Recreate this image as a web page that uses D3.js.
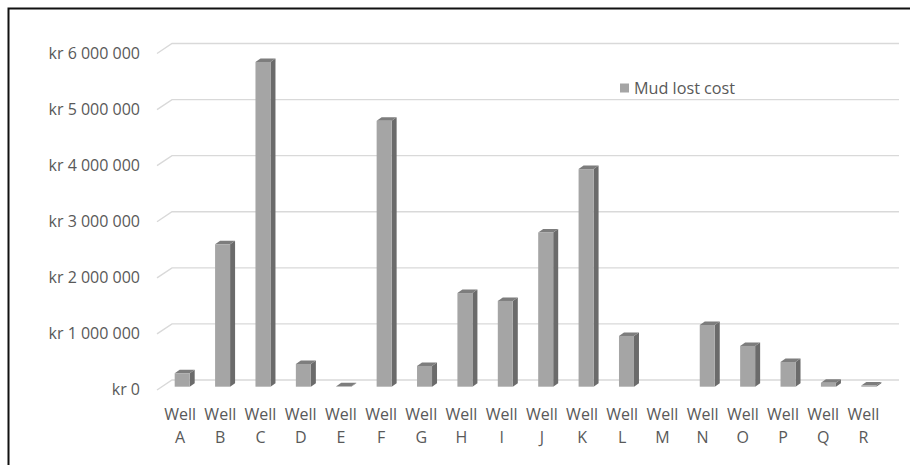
<!DOCTYPE html>
<html>
<head>
<meta charset="utf-8">
<script src="https://cdn.jsdelivr.net/npm/d3@7"></script>
<style>
  html, body { margin: 0; padding: 0; background: #fff; }
  svg { display: block; }
  text { font-family: "Open Sans", Lato, sans-serif; fill: #595959; }
</style>
</head>
<body>
<svg id="chart" width="910" height="465"></svg>
<script>
// Mud lost cost per well (NOK)
const wells = ["A","B","C","D","E","F","G","H","I","J","K","L","M","N","O","P","Q","R"];
const mudLostCost = [240000, 2540000, 5790000, 405000, 10000, 4740000, 370000, 1670000, 1530000,
                     2750000, 3880000, 905000, 0, 1100000, 727000, 440000, 70000, 20000];
const yTicks = [0, 1000000, 2000000, 3000000, 4000000, 5000000, 6000000];
const seriesName = "Mud lost cost";

const svg = d3.select("#chart");

// Depth offsets of the 3D box (back wall relative to front edge)
const wallDX = 15, wallDY = 10;
const barFrontOffset = 10, barFrontDrop = 6.7;   // bar front plane relative to back wall
const barDX = 5, barDY = 3.5;                    // bar depth

// Back-wall scales
const xBack = d3.scaleBand().domain(wells).range([172, 899]);
const y = d3.scaleLinear().domain([0, 6000000]).range([380, 43.5]);
// Front-edge scale for category labels
const xFront = d3.scaleBand().domain(wells).range([160, 883.5]);

const fmt = v => "kr " + d3.format(",")(v).replace(/,/g, " ");

// Outer frame
svg.append("rect")
  .attr("x", 8.5).attr("y", 8.5)
  .attr("width", 1000).attr("height", 1000)
  .attr("fill", "none").attr("stroke", "#111").attr("stroke-width", 2);

// Gridlines: side-wall diagonal + back-wall horizontal
const xL = xBack.range()[0], xR = xBack.range()[1];
svg.append("g").selectAll("path")
  .data(yTicks).join("path")
  .attr("d", t => `M${xL - wallDX},${y(t) + wallDY}L${xL},${y(t)}L${xR},${y(t)}`)
  .attr("fill", "none").attr("stroke", "#d9d9d9").attr("stroke-width", 1.4);

// Value axis labels
svg.append("g").selectAll("text")
  .data(yTicks).join("text")
  .attr("x", 140).attr("y", t => y(t) + wallDY - 1)
  .attr("text-anchor", "end").attr("dominant-baseline", "central")
  .style("font-size", "16px")
  .text(fmt);

// 3D columns
const bars = svg.append("g").selectAll("g")
  .data(wells.map((w, i) => ({ w, v: mudLostCost[i] })))
  .join("g");

const fw = 15;
const fx = d => xBack(d.w) + xBack.bandwidth() / 2 - barFrontOffset - fw / 2;
const baseY = y(0) + barFrontDrop;
const topY = d => y(d.v) + barFrontDrop;

bars.filter(d => d.v > 0).append("path")   // right side
  .attr("d", d => {
    const x1 = fx(d) + fw, t = topY(d);
    return `M${x1},${t}L${x1 + barDX},${t - barDY}L${x1 + barDX},${baseY - barDY}L${x1},${baseY}Z`;
  })
  .attr("fill", "#6b6b6b");

bars.filter(d => d.v > 0).append("path")   // top
  .attr("d", d => {
    const x0 = fx(d), t = topY(d);
    return `M${x0},${t}L${x0 + barDX},${t - barDY}L${x0 + fw + barDX},${t - barDY}L${x0 + fw},${t}Z`;
  })
  .attr("fill", "#7d7d7d");

bars.filter(d => d.v > 0).append("rect")   // front
  .attr("x", fx)
  .attr("y", topY)
  .attr("width", fw)
  .attr("height", d => baseY - topY(d))
  .attr("fill", "#a5a5a5");

// Category labels
const lab = svg.append("g").selectAll("g")
  .data(wells).join("g")
  .attr("transform", w => `translate(${xFront(w) + xFront.bandwidth() / 2},0)`);
lab.append("text").attr("y", 414).attr("text-anchor", "middle")
  .attr("dominant-baseline", "central").style("font-size", "16px").text("Well");
lab.append("text").attr("y", 436.5).attr("text-anchor", "middle")
  .attr("dominant-baseline", "central").style("font-size", "16px").text(w => w);

// Legend
const lg = svg.append("g").attr("transform", "translate(620,83.5)");
lg.append("rect").attr("width", 9).attr("height", 9).attr("fill", "#a5a5a5");
lg.append("text").attr("x", 14).attr("y", 4).attr("dominant-baseline", "central")
  .style("font-size", "16.2px").text(seriesName);
</script>
</body>
</html>
